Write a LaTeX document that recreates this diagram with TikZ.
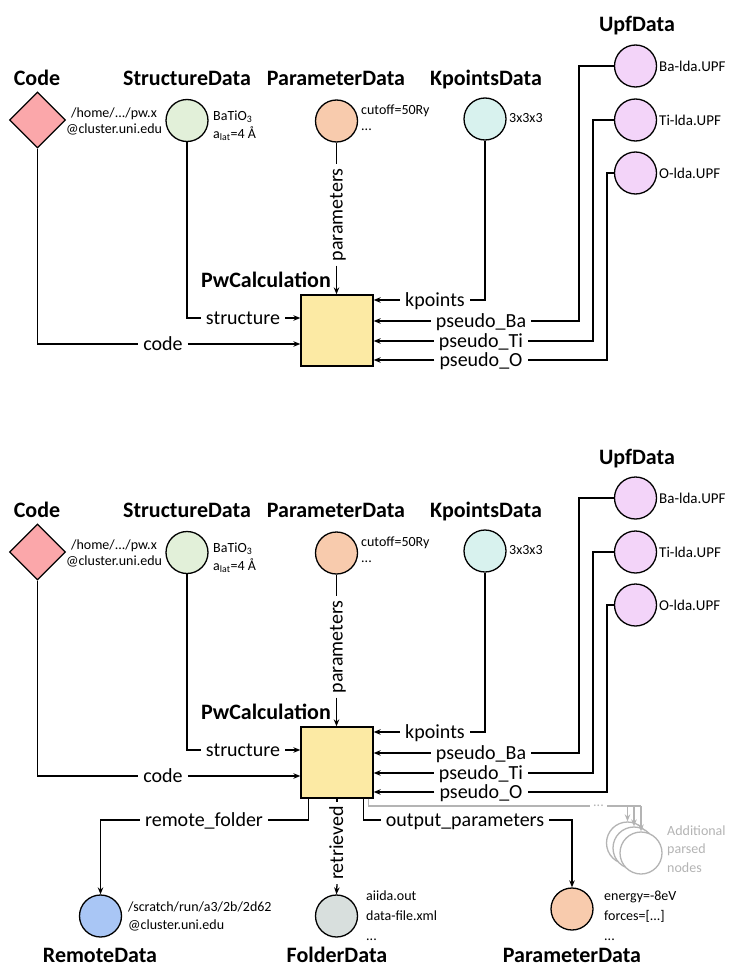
\documentclass[tikz,border=0pt]{standalone}
\usepackage{fontspec}
\setmainfont{Carlito}
\usetikzlibrary{shapes.geometric,arrows.meta}

\definecolor{cCode}{HTML}{FBA7AA}
\definecolor{cStruct}{HTML}{E2F0D9}
\definecolor{cParam}{HTML}{F8CBAD}
\definecolor{cKpt}{HTML}{D8F2EE}
\definecolor{cUpf}{HTML}{F3D4F9}
\definecolor{cCalc}{HTML}{FCEAA4}
\definecolor{cRemote}{HTML}{A9C6F5}
\definecolor{cFolder}{HTML}{D8DFDD}
\definecolor{cGray}{HTML}{B4B4B4}

\tikzset{
 datanode/.style={circle, draw=black, line width=1.3pt, minimum size=42pt, inner sep=0pt},
 codenode/.style={diamond, draw=black, line width=1.3pt, fill=cCode, minimum width=56pt, minimum height=56pt, inner sep=0pt},
 calcnode/.style={rectangle, draw=black, line width=1.3pt, fill=cCalc, minimum width=72pt, minimum height=71pt, inner sep=0pt},
 head/.style={font=\fontsize{22}{26}\selectfont\bfseries, anchor=base, inner sep=0pt},
 lbl/.style={font=\fontsize{20}{24}\selectfont, inner xsep=5pt, inner ysep=0pt, text height=12pt, text depth=0pt},
 info/.style={font=\fontsize{14}{#1}\selectfont, align=left, anchor=west, inner sep=0pt},
 info/.default=16,
 con/.style={line width=1.3pt, draw=black},
 arr/.style={con, -{Stealth[length=7pt,width=5.5pt]}},
 graycon/.style={line width=1.3pt, draw=cGray},
 grayarr/.style={graycon, -{Stealth[length=7pt,width=5.5pt]}},
}

\newcommand\inputpanel[2]{%
\begin{scope}[shift={(0,#2)}]
 % headings
 \node[head] (#1hcode) at (37,85) {Code};
 \node[head] (#1hstruct) at (187,85) {StructureData};
 \node[head] (#1hparam) at (336,85) {ParameterData};
 \node[head] (#1hkpt) at (486,85) {KpointsData};
 \node[head] (#1hupf) at (637,32) {UpfData};
 % data nodes
 \node[codenode] (#1code) at (37.5,120) {};
 \node[info, anchor=center, align=center] (#1tcode) at (114,121) {/home/.../pw.x\\@cluster.uni.edu};
 \node[datanode, fill=cStruct] (#1struct) at (187,120.5) {};
 \node[info=18] (#1tstruct) at (213,126) {BaTiO\textsubscript{3}\\a\textsubscript{lat}=4 Å};
 \node[datanode, fill=cParam] (#1param) at (336.5,121) {};
 \node[info] (#1tparam) at (361,118) {cutoff=50Ry\\...};
 \node[datanode, fill=cKpt] (#1kpt) at (485,119) {};
 \node[info] (#1tkpt) at (509,118) {3x3x3};
 \node[datanode, fill=cUpf] (#1ba) at (635.5,66) {};
 \node[datanode, fill=cUpf] (#1ti) at (635.5,120) {};
 \node[datanode, fill=cUpf] (#1o) at (635.5,173) {};
 \node[info, font=\fontsize{15}{18}\selectfont] (#1tba) at (659,66) {Ba-lda.UPF};
 \node[info, font=\fontsize{15}{18}\selectfont] (#1tti) at (659,120) {Ti-lda.UPF};
 \node[info, font=\fontsize{15}{18}\selectfont] (#1to) at (659,173) {O-lda.UPF};
 % calculation
 \node[calcnode] (#1calc) at (337,330.5) {};
 \node[head, anchor=base east] (#1hcalc) at (331,287) {PwCalculation};
 % labels
 \node[lbl] (#1lcode) at (163,344) {code};
 \node[lbl] (#1lstruct) at (243,318) {structure};
 \node[lbl, rotate=90, inner xsep=4pt] (#1lparam) at (336.5,215) {parameters};
 \node[lbl] (#1lkpt) at (435,300) {kpoints};
 \node[lbl] (#1lba) at (481,321) {pseudo\_Ba};
 \node[lbl] (#1lti) at (481,341) {pseudo\_Ti};
 \node[lbl] (#1lo) at (481,360) {pseudo\_O};
 \coordinate (#1cba) at (579,66);
 \coordinate (#1cti) at (593,120);
 \coordinate (#1co) at (607,173);
 % connectors
 \draw[con] (#1code.south) |- (#1lcode.west);
 \draw[arr] (#1lcode.east) -- (#1calc.west |- #1lcode);
 \draw[con] (#1struct.south) |- (#1lstruct.west);
 \draw[arr] (#1lstruct.east) -- (#1calc.west |- #1lstruct);
 \draw[con] (#1param.south) -- (#1lparam.east);
 \draw[arr] (#1lparam.west) -- (#1lparam.west |- #1calc.north);
 \draw[con] (#1kpt.south) |- (#1lkpt.east);
 \draw[arr] (#1lkpt.west) -- (#1calc.east |- #1lkpt);
 \draw[con] (#1ba.west) -- (#1cba) |- (#1lba.east);
 \draw[arr] (#1lba.west) -- (#1calc.east |- #1lba);
 \draw[con] (#1ti.west) -- (#1cti) |- (#1lti.east);
 \draw[arr] (#1lti.west) -- (#1calc.east |- #1lti);
 \draw[con] (#1o.west) -- (#1co) |- (#1lo.east);
 \draw[arr] (#1lo.west) -- (#1calc.east |- #1lo);
\end{scope}}

\begin{document}
\begin{tikzpicture}[x=1pt,y=-1pt]
 \fill[white] (0,0) rectangle (729,966);
 \useasboundingbox (0,0) rectangle (729,966);
 \inputpanel{t}{0}
 \inputpanel{b}{432}
 % outputs
 \node[head] (hremote) at (100,962) {RemoteData};
 \node[head] (hfolder) at (337,962) {FolderData};
 \node[head] (hout) at (572,962) {ParameterData};
 \node[datanode, fill=cRemote] (remote) at (100.5,916) {};
 \node[info=18] (tremote) at (128,916) {/scratch/run/a3/2b/2d62\\@cluster.uni.edu};
 \node[datanode, fill=cFolder] (folder) at (336.5,916) {};
 \node[info=20] (tfolder) at (366,916) {aiida.out\\data-file.xml\\...};
 \node[datanode, fill=cParam] (outp) at (572,909) {};
 \node[info=20] (tout) at (604,916) {energy=-8eV\\forces=[...]\\...};
 \node[datanode, draw=cGray, fill=white] (a1) at (627.5,843) {};
 \node[datanode, draw=cGray, fill=white] (a2) at (634,848) {};
 \node[datanode, draw=cGray, fill=white] (a3) at (641,853) {};
 \node[info=18.5, text=cGray] (tadd) at (667,849) {Additional\\parsed\\nodes};
 \node[info, text=cGray, inner xsep=3pt] (dots) at (590,806) {...};
 \node[lbl] (lrem) at (204,820) {remote\_folder};
 \node[lbl, rotate=90, inner xsep=4pt] (lret) at (337,843) {retrieved};
 \node[lbl] (lout) at (465,820) {output\_parameters};
 % output connectors
 \draw[con] ([xshift=8pt]bcalc.south west) |- (lrem.east);
 \draw[arr] (lrem.west) -| (remote.north);
 \draw[con] (bcalc.south) -- (lret.east);
 \draw[arr] (lret.west) -- (folder.north);
 \draw[con] ([xshift=-10pt]bcalc.south east) |- (lout.west);
 \draw[arr] (lout.east) -| (outp.north);
 \draw[graycon] ([xshift=-5pt]bcalc.south east) |- (dots.west);
 \draw[graycon] (dots.east) -- (dots.east -| a3.north);
 \draw[grayarr] (a1.north |- dots.east) -- (a1.north);
 \draw[grayarr] (a2.north |- dots.east) -- (a2.north);
 \draw[grayarr] (a3.north |- dots.east) -- (a3.north);
\end{tikzpicture}
\end{document}
